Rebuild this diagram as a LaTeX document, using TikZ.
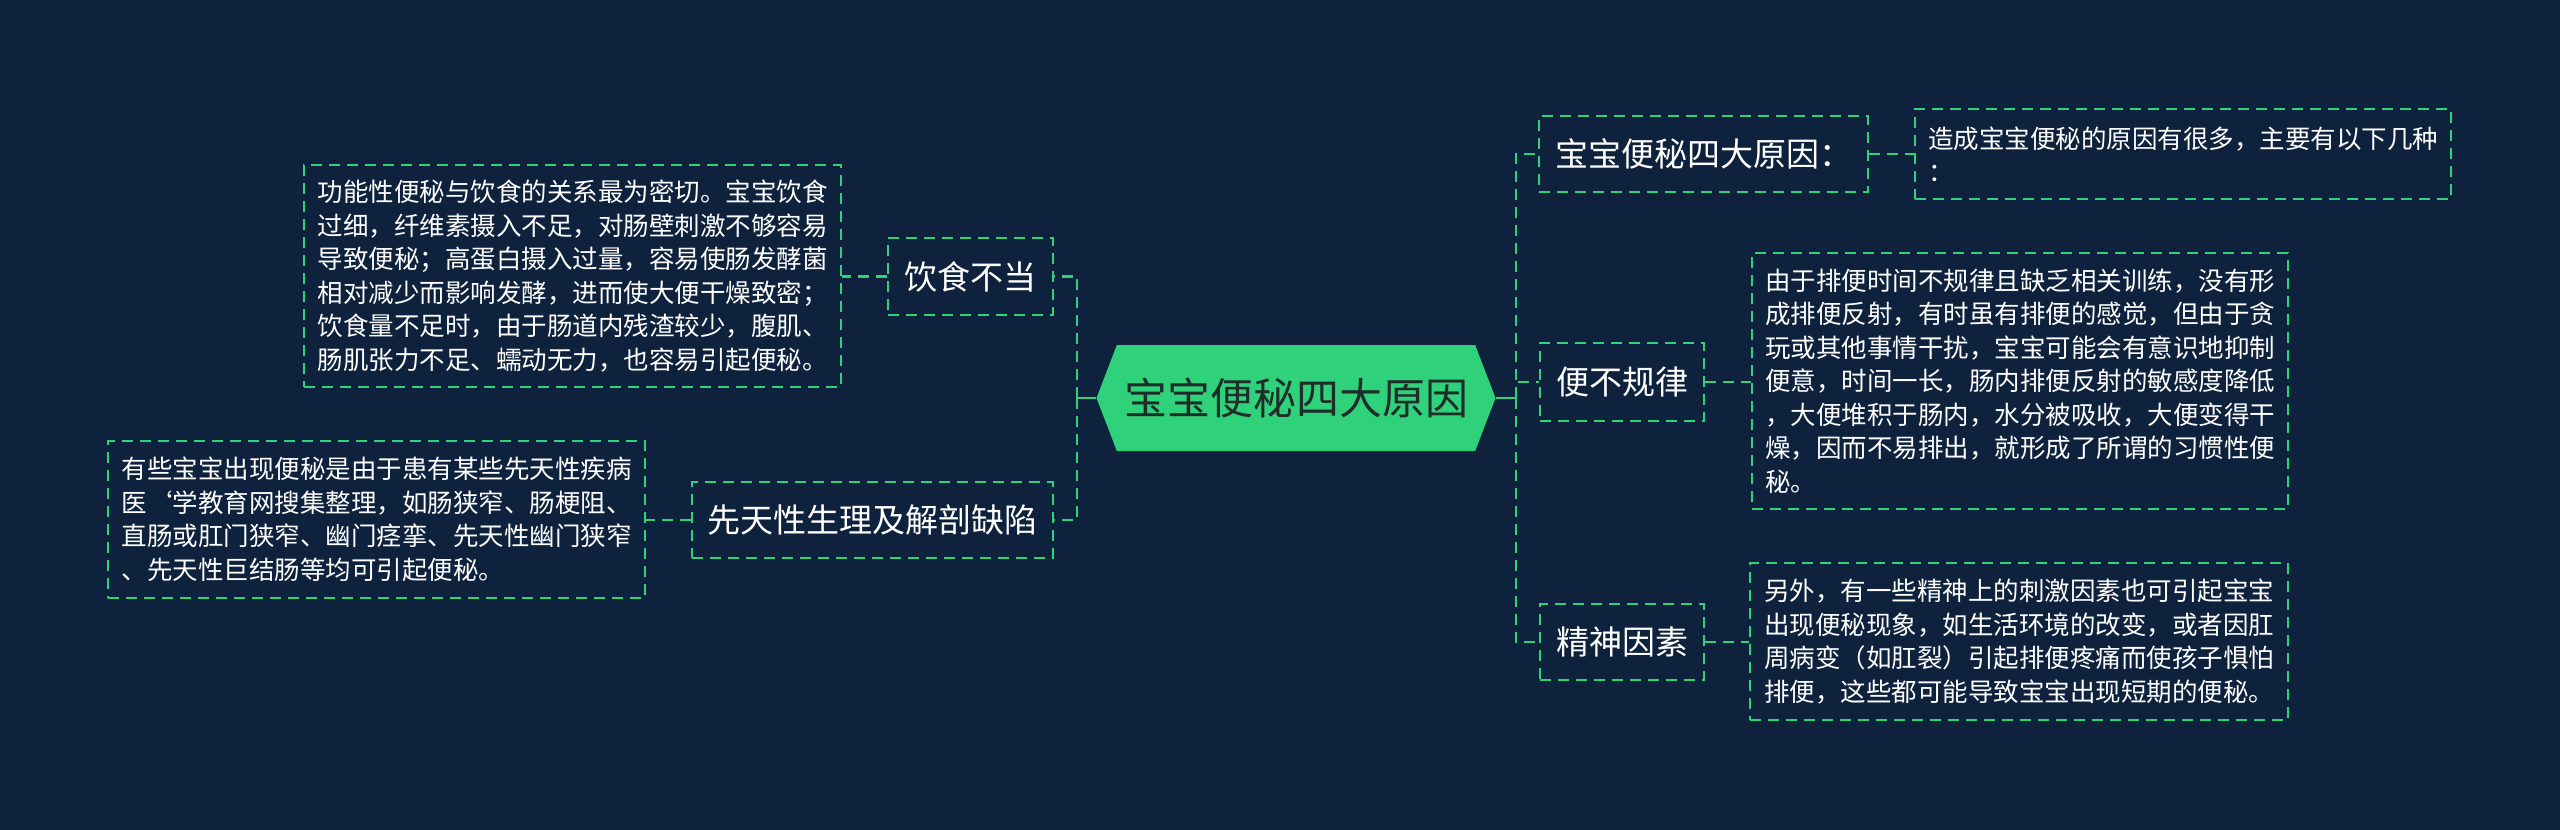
\documentclass[tikz,border=0pt]{standalone}
\usepackage{fontspec}
\setmainfont{Noto Sans CJK SC}
\usetikzlibrary{shapes.symbols}
\definecolor{bg}{HTML}{0E223D}
\definecolor{grn}{HTML}{2FD27A}
\definecolor{ctext}{HTML}{1F2D2A}
\tikzset{
 dashline/.style={draw=grn, line width=1.1pt, dash pattern=on 5.5pt off 3.5pt},
 solidline/.style={draw=grn, line width=1.1pt},
 topic/.style={dashline, text=white, font=\fontsize{16.5pt}{20pt}\selectfont, inner sep=0pt, align=center},
 leaf/.style={dashline, text=white, font=\fontsize{12.75pt}{16.75pt}\selectfont, inner sep=0pt, align=left},
 central/.style={shape=signal, signal to=west and east, signal pointer angle=138, fill=grn, text=ctext,
   font=\fontsize{21.5pt}{26pt}\selectfont, inner sep=0pt, minimum width=199.5pt, minimum height=53pt}
}
\begin{document}
\begin{tikzpicture}[x=0.5pt,y=-0.5pt]
\fill[bg] (0,0) rectangle (2560,830);
\useasboundingbox (0,0) rectangle (2560,830);

\node[central] (c) at (1296,398) {宝宝便秘四大原因};

\node[topic, minimum width=82.5pt, minimum height=38.5pt] (a1) at (970.5,276.5) {饮食不当};
\node[topic, minimum width=180.5pt, minimum height=38pt] (a2) at (872.5,520) {先天性生理及解剖缺陷};
\node[topic, minimum width=164.5pt, minimum height=38pt] (b1) at (1703.5,154) {宝宝便秘四大原因：};
\node[topic, minimum width=82pt, minimum height=39pt] (b2) at (1622,382) {便不规律};
\node[topic, minimum width=82pt, minimum height=38pt] (b3) at (1622,642) {精神因素};

\node[leaf, minimum width=268.5pt, minimum height=111pt] (la1) at (572.5,276) {功能性便秘与饮食的关系最为密切。宝宝饮食\\
过细，纤维素摄入不足，对肠壁刺激不够容易\\
导致便秘；高蛋白摄入过量，容易使肠发酵菌\\
相对减少而影响发酵，进而使大便干燥致密；\\
饮食量不足时，由于肠道内残渣较少，腹肌、\\
肠肌张力不足、蠕动无力，也容易引起便秘。};

\node[leaf, minimum width=268.5pt, minimum height=78.5pt] (la2) at (376.5,519.5) {有些宝宝出现便秘是由于患有某些先天性疾病\\
医{\char"60}学教育网搜集整理，如肠狭窄、肠梗阻、\\
直肠或肛门狭窄、幽门痉挛、先天性幽门狭窄\\
、先天性巨结肠等均可引起便秘。};

\node[leaf, minimum width=268pt, minimum height=45pt] (rb1) at (2183,154) {造成宝宝便秘的原因有很多，主要有以下几种\\
：};

\node[leaf, minimum width=268pt, minimum height=128pt] (rb2) at (2020,381) {由于排便时间不规律且缺乏相关训练，没有形\\
成排便反射，有时虽有排便的感觉，但由于贪\\
玩或其他事情干扰，宝宝可能会有意识地抑制\\
便意，时间一长，肠内排便反射的敏感度降低\\
，大便堆积于肠内，水分被吸收，大便变得干\\
燥，因而不易排出，就形成了所谓的习惯性便\\
秘。};

\node[leaf, minimum width=269pt, minimum height=78.5pt] (rb3) at (2019,641.5) {另外，有一些精神上的刺激因素也可引起宝宝\\
出现便秘现象，如生活环境的改变，或者因肛\\
周病变（如肛裂）引起排便疼痛而使孩子惧怕\\
排便，这些都可能导致宝宝出现短期的便秘。};

\coordinate (lt) at (1077,398);
\coordinate (rt) at (1516,398);

\draw[solidline] (c.west) -- (lt);
\draw[dashline] (lt) |- (a1.east);
\draw[dashline] (lt) |- (a2.east);
\draw[solidline] (c.east) -- (rt);
\draw[dashline] (rt) |- (b1.west);
\draw[dashline] (rt) |- (b2.west);
\draw[dashline] (rt) |- (b3.west);

\draw[dashline] (a1.west) -- (a1.west -| la1.east);
\draw[dashline] (a2.west) -- (a2.west -| la2.east);
\draw[dashline] (b1.east) -- (b1.east -| rb1.west);
\draw[dashline] (b2.east) -- (b2.east -| rb2.west);
\draw[dashline] (b3.east) -- (b3.east -| rb3.west);
\end{tikzpicture}
\end{document}
